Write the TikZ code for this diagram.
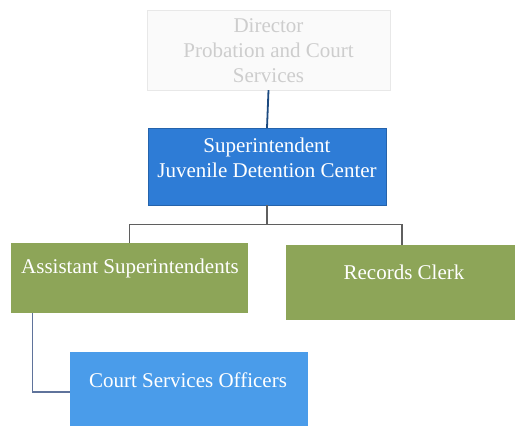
\documentclass[tikz,border=0pt]{standalone}
\usepackage{fontspec}
\setmainfont{Liberation Serif}
\definecolor{topfill}{RGB}{250,250,250}
\definecolor{topline}{RGB}{232,232,232}
\definecolor{toptext}{RGB}{205,205,205}
\definecolor{supblue}{RGB}{46,124,214}
\definecolor{courtblue}{RGB}{74,156,234}
\definecolor{boxgreen}{RGB}{141,165,88}
\definecolor{conn}{RGB}{95,95,95}
\definecolor{connblue}{RGB}{95,115,155}
\begin{document}
\begin{tikzpicture}[x=1pt,y=1pt,
  box/.style={rectangle, draw=none, inner sep=0pt},
  lbl/.style={font=\fontsize{21}{25}\selectfont, text=white, align=center, inner sep=0pt},
  link/.style={draw=conn, line width=1.3pt}]
\clip (0,0) rectangle (515,426);
\fill[white] (0,0) rectangle (515,426);
% boxes
\node[box, fill=topfill, draw=topline, minimum width=243, minimum height=80] (top) at (268.5,376) {};
\node[lbl, text=toptext] (toptxt) at (268.5,375) {Director\\Probation and Court\\Services};
\node[box, fill=supblue, draw=supblue!80!black, minimum width=238, minimum height=77] (sup) at (267,259.5) {};
\node[lbl] (suptxt) at (267,268.5) {Superintendent\\Juvenile Detention Center};
\node[box, fill=boxgreen, minimum width=237, minimum height=70] (asst) at (129.5,148) {};
\node[lbl] (assttxt) at (130,158) {Assistant Superintendents};
\node[box, fill=boxgreen, minimum width=232, minimum height=75] (rec) at (402,143.5) {};
\node[lbl] (rectxt) at (404,154) {Records Clerk};
\node[box, fill=courtblue, minimum width=238, minimum height=80] (court) at (189,34) {};
\node[lbl] (courttxt) at (188,46) {Court Services Officers};
% connectors
\draw[link, line width=1.8pt, draw=supblue!60!black] (top.south) -- (sup.north);
\draw[link, line width=2pt] (sup.south) -- ++(0,-19) coordinate (bus);
\draw[link] (bus) -| (asst.north);
\draw[link] (bus) -| (rec.north);
\draw[link, draw=connblue] ([xshift=22pt]asst.south west) |- (court.west);
\end{tikzpicture}
\end{document}
